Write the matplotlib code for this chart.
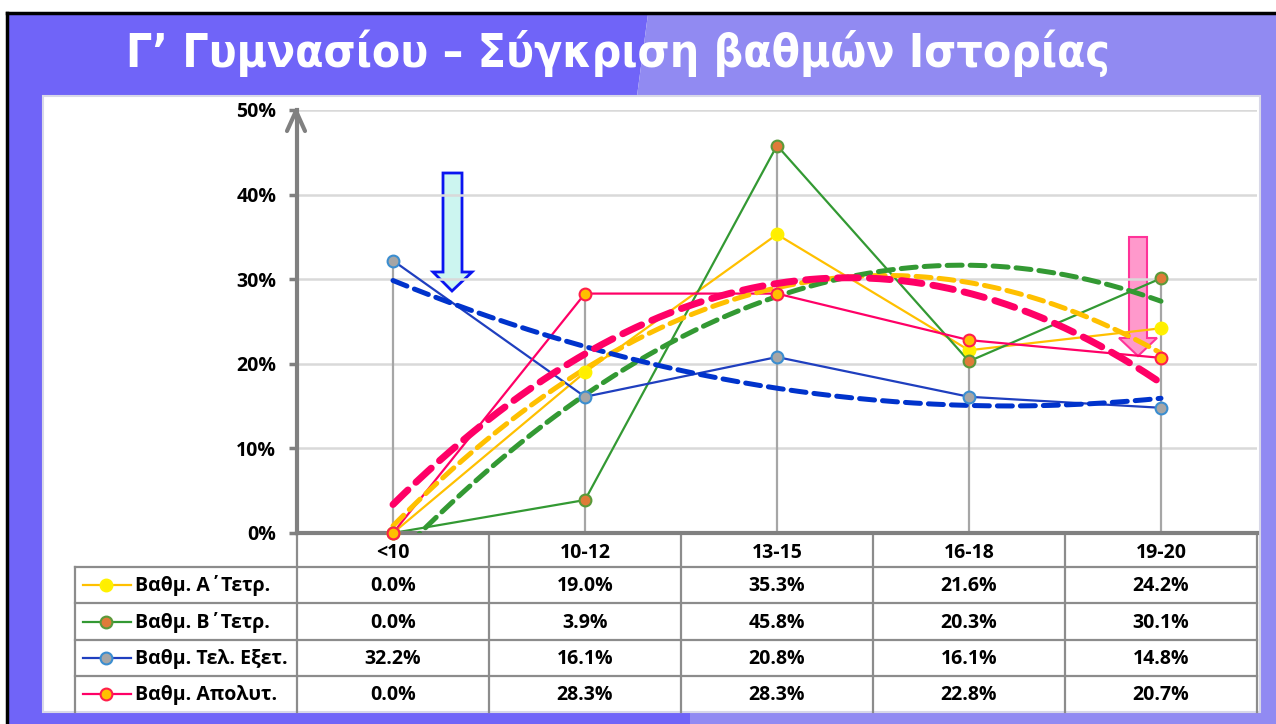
import numpy as np
import matplotlib.pyplot as plt
from matplotlib import font_manager
from matplotlib.patches import Polygon, Rectangle

plt.rcParams['font.family'] = ['Open Sans', 'DejaVu Sans']

# Datos
categorias = ['<10', '10-12', '13-15', '16-18', '19-20']
series = ['Βαθμ. Α΄Τετρ.', 'Βαθμ. Β΄Τετρ.', 'Βαθμ. Τελ. Εξετ.', 'Βαθμ. Απολυτ.']
a_tetr = [0.0, 19.0, 35.3, 21.6, 24.2]
b_tetr = [0.0, 3.9, 45.8, 20.3, 30.1]
tel_exet = [32.2, 16.1, 20.8, 16.1, 14.8]
apolyt = [0.0, 28.3, 28.3, 22.8, 20.7]
valores = [a_tetr, b_tetr, tel_exet, apolyt]

# Estilos
lineas = ['#FFC000', '#339933', '#1F3FBF', '#FF0066']
rellenos = ['#FFEE00', '#E07B39', '#A6A6A6', '#FFC000']
bordes = ['#FFF200', '#5A9A3A', '#3B8ED0', '#FF1F4B']
tendencias = ['#FFC000', '#339933', '#0033CC', '#FF0066']
grosor_tend = [3.6, 3.6, 3.6, 5.0]
titulo = 'Γ’ Γυμνασίου – Σύγκριση βαθμών Ιστορίας'

# Fuente estrecha para el titulo, si existe
fuente_titulo = dict(family=['Roboto', 'DejaVu Sans'])
for f in font_manager.fontManager.ttflist:
    if ('Narrow' in f.name or 'Condensed' in f.name or f.stretch == 'condensed') \
            and f.weight in ('bold', 700):
        fuente_titulo = dict(fname=f.fname)
        break

W, H = 1276, 724
fig = plt.figure(figsize=(W / 100, H / 100), dpi=100)

# Fondo en coordenadas de pixel
bg = fig.add_axes([0, 0, 1, 1])
bg.set_xlim(0, W)
bg.set_ylim(H, 0)
bg.axis('off')
bg.add_patch(Polygon([(8, 14), (648, 14), (637, 96), (690, 712), (690, H), (8, H)],
                     closed=True, facecolor='#7064F8', edgecolor='none'))
bg.add_patch(Polygon([(648, 14), (W, 14), (W, H), (690, H), (690, 712), (637, 96)],
                     closed=True, facecolor='#918AF2', edgecolor='none'))
bg.plot([7, W], [13, 13], color='black', lw=2.5)
bg.plot([7, 7], [13, H], color='black', lw=2.5)
bg.add_patch(Rectangle((43, 96), 1217, 616, facecolor='white', edgecolor='#D8D8E8', lw=1.5))

if 'fname' in fuente_titulo:
    fp = font_manager.FontProperties(fname=fuente_titulo['fname'])
else:
    fp = font_manager.FontProperties(family=fuente_titulo['family'], weight='bold')
t = bg.text(618, 53, titulo, color='white', fontproperties=fp, fontsize=37,
            ha='center', va='center')
# Ajustar el tamaño para que el titulo ocupe ~985 px
fig.canvas.draw()
ancho = t.get_window_extent().width
t.set_fontsize(min(40, 37 * 985 / ancho))

# Tabla de datos
x0, x1, col_w = 297, 1257, 192
filas_y = [533, 567, 603, 640, 676, 712]
gris = '#8C8C8C'
for xv in [x0 + i * col_w for i in range(6)]:
    bg.plot([xv, xv], [533, 712], color=gris, lw=1.6)
bg.plot([75, 75], [567, 712], color=gris, lw=1.6)
for yv in filas_y[1:5]:
    bg.plot([75, x1], [yv, yv], color=gris, lw=1.6)
for r, nombre in enumerate(series):
    yc = (filas_y[r + 1] + filas_y[r + 2]) / 2
    bg.plot([83, 131], [yc, yc], color=lineas[r], lw=1.6)
    bg.plot([106], [yc], 'o', ms=8.5, mfc=rellenos[r], mec=bordes[r], mew=1.5)
    bg.text(135, yc + 1, nombre, fontsize=14, fontweight='bold', ha='left', va='center')
    for i, v in enumerate(valores[r]):
        bg.text(x0 + (i + 0.5) * col_w, yc + 1, '%.1f%%' % v, fontsize=14,
                fontweight='bold', ha='center', va='center')

# Flechas
bg.add_patch(Polygon([(443, 173), (462, 173), (462, 272), (472, 272), (452, 291),
                      (433, 272), (443, 272)], closed=True,
                     facecolor='#CCF5F0', edgecolor='#0A14F0', lw=2))
bg.add_patch(Polygon([(1129, 237), (1147, 237), (1147, 338), (1157, 338), (1138, 356),
                      (1119, 338), (1129, 338)], closed=True,
                     facecolor='#FF99CC', edgecolor='#FF3399', lw=1.5, zorder=5))

# Grafico principal
ax = fig.add_axes([x0 / W, (H - 533) / H, (x1 - x0) / W, (533 - 110) / H])
ax.patch.set_alpha(0)
x = np.arange(1, 6)
ax.set_xlim(0.5, 5.5)
ax.set_ylim(0, 50)
ax.set_yticks(np.arange(0, 51, 10))
ax.set_yticklabels(['%d%%' % t for t in range(0, 51, 10)], fontsize=14, fontweight='bold')
ax.set_xticks(x)
ax.set_xticklabels(categorias, fontsize=14, fontweight='bold')
ax.tick_params(axis='x', length=0, pad=7)
ax.tick_params(axis='y', length=6, width=2.5, color='#808080', pad=9)
for s in ['top', 'right']:
    ax.spines[s].set_visible(False)
for s in ['left', 'bottom']:
    ax.spines[s].set_color('#808080')
    ax.spines[s].set_linewidth(3)
ax.grid(axis='y', color='#D9D9D9', lw=1.8)
ax.set_axisbelow(True)

# Flecha del eje y
bg.plot([287, 296, 305], [131, 111, 131], color='#808080', lw=3, solid_capstyle='round')

# Lineas de caida
maximos = np.max(np.array(valores), axis=0)
ax.vlines(x, 0, maximos, color='#A6A6A6', lw=1.6, zorder=1)

xs = np.linspace(1, 5, 200)
for r in range(4):
    ax.plot(x, valores[r], color=lineas[r], lw=1.6, zorder=2)
for r in range(4):
    coef = np.polyfit(x, valores[r], 2)
    ax.plot(xs, np.polyval(coef, xs), color=tendencias[r], lw=grosor_tend[r],
            linestyle=(0, (3, 1.6)), dash_capstyle='round', zorder=3)
for r in range(4):
    ax.plot(x, valores[r], 'o', ms=8.5, mfc=rellenos[r], mec=bordes[r], mew=1.5,
            zorder=4, clip_on=False)

fig.savefig('out.png', dpi=100)
